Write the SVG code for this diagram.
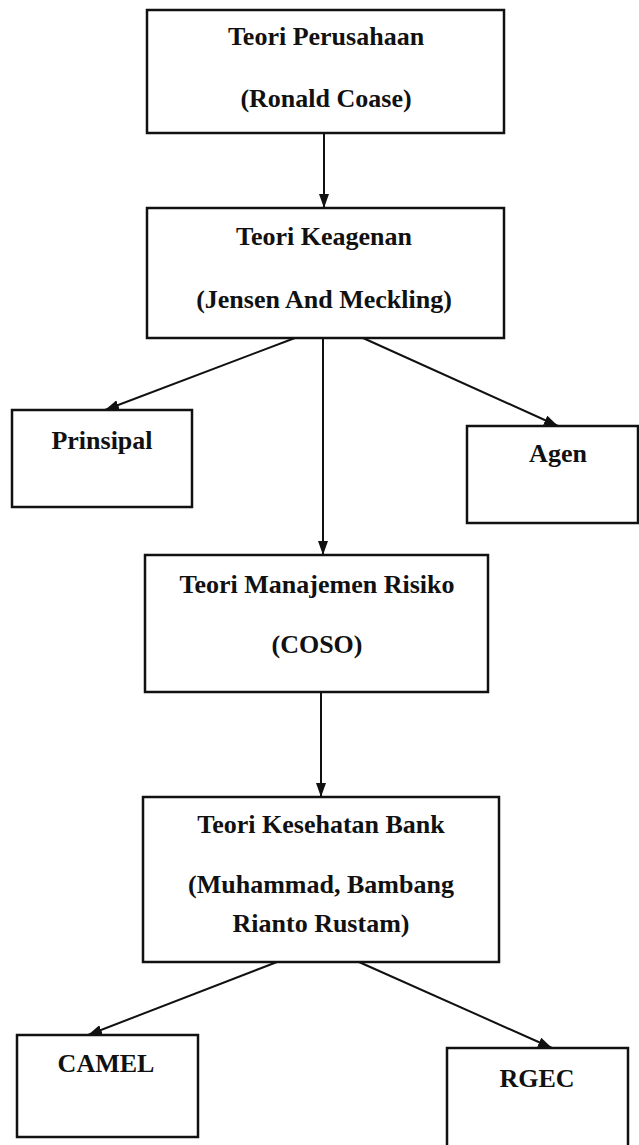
<svg xmlns="http://www.w3.org/2000/svg" width="639" height="1145" viewBox="0 0 639 1145">
<style>
.box{fill:#fff;stroke:#111;stroke-width:2.5}
.t{font-family:"Liberation Serif","Times New Roman",serif;font-weight:bold;font-size:26px;fill:#111;text-anchor:middle}
.c{stroke:#111;stroke-width:2;fill:none;marker-end:url(#ah)}
</style>
<defs>
<marker id="ah" viewBox="0 0 14 10" refX="14" refY="5" markerWidth="7" markerHeight="5" orient="auto" markerUnits="strokeWidth">
<path d="M0,0 L14,5 L0,10 z" fill="#111"/>
</marker>
</defs>
<rect width="639" height="1145" fill="#fff"/>
<g id="connectors">
<line class="c" x1="324" y1="133" x2="324" y2="208"/>
<line class="c" x1="295" y1="338" x2="105" y2="410"/>
<line class="c" x1="323" y1="338" x2="323" y2="555"/>
<line class="c" x1="363" y1="338" x2="558" y2="426"/>
<line class="c" x1="321" y1="692" x2="321" y2="797"/>
<line class="c" x1="277" y1="962" x2="88" y2="1035"/>
<line class="c" x1="359" y1="962" x2="552" y2="1048"/>
</g>
<g id="n-perusahaan">
<rect class="box" x="147" y="10" width="357" height="123"/>
<text class="t" x="326" y="45">Teori Perusahaan</text>
<text class="t" x="326" y="107">(Ronald Coase)</text>
</g>
<g id="n-keagenan">
<rect class="box" x="147" y="208" width="357" height="130"/>
<text class="t" x="324" y="245">Teori Keagenan</text>
<text class="t" x="324" y="308">(Jensen And Meckling)</text>
</g>
<g id="n-prinsipal">
<rect class="box" x="12" y="410" width="180" height="97"/>
<text class="t" x="102" y="449">Prinsipal</text>
</g>
<g id="n-agen">
<rect class="box" x="467" y="426" width="171" height="97"/>
<text class="t" x="558" y="462">Agen</text>
</g>
<g id="n-risiko">
<rect class="box" x="145" y="555" width="343" height="137"/>
<text class="t" x="317" y="593">Teori Manajemen Risiko</text>
<text class="t" x="317" y="653">(COSO)</text>
</g>
<g id="n-bank">
<rect class="box" x="143" y="797" width="356" height="165"/>
<text class="t" x="321" y="833">Teori Kesehatan Bank</text>
<text class="t" x="321" y="893">(Muhammad, Bambang</text>
<text class="t" x="321" y="932">Rianto Rustam)</text>
</g>
<g id="n-camel">
<rect class="box" x="17" y="1035" width="181" height="102"/>
<text class="t" x="106" y="1072">CAMEL</text>
</g>
<g id="n-rgec">
<rect class="box" x="447" y="1048" width="181" height="100"/>
<text class="t" x="537" y="1087">RGEC</text>
</g>
</svg>
